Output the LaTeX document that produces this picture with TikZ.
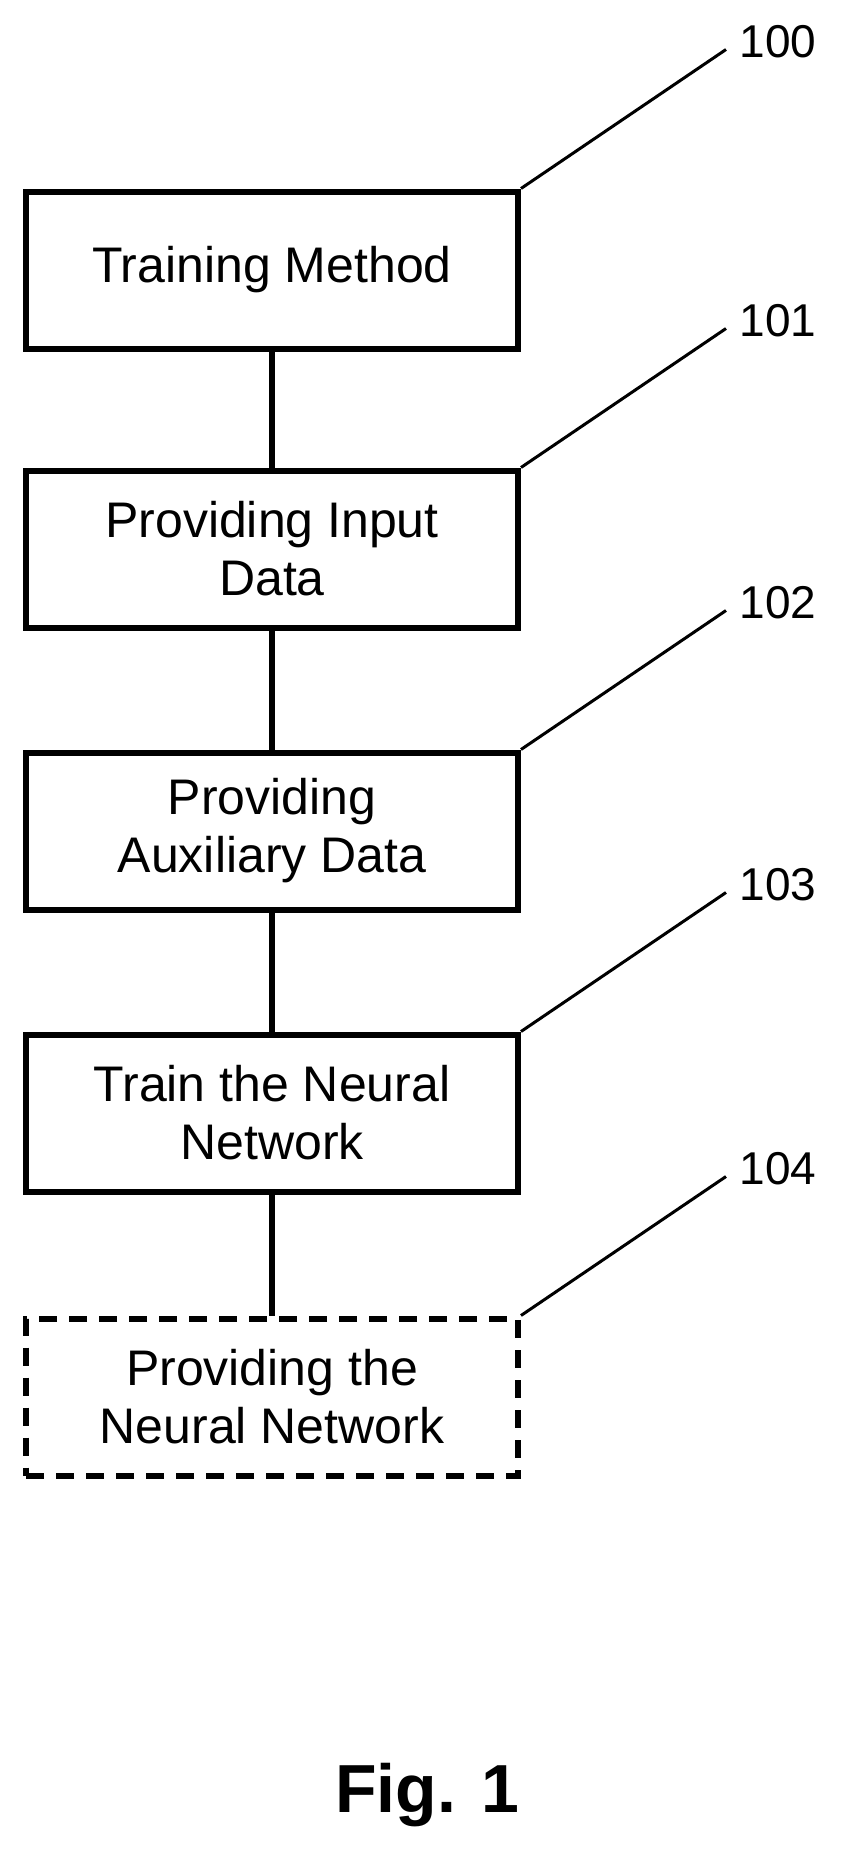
\documentclass[tikz,border=0pt]{standalone}
\usepackage{fontspec}
\setmainfont{Liberation Sans}
\begin{document}
\begin{tikzpicture}[x=1pt,y=-1pt,
  box/.style={draw,line width=6pt,minimum width=492pt,minimum height=157pt,align=center,font=\fontsize{50}{58}\selectfont,inner sep=0pt},
  lead/.style={line width=3pt},
  conn/.style={line width=6pt},
  num/.style={font=\fontsize{46}{54}\selectfont,anchor=west}]
\useasboundingbox (0,0) rectangle (841,1860);
\node[box] (b0) at (272,270) {Training Method};
\node[box] (b1) at (272,549) {Providing Input\\Data};
\node[box] (b2) at (272,831) {Providing\\Auxiliary Data};
\node[box] (b3) at (272,1113) {Train the Neural\\Network};
\node[box,dashed,dash pattern=on 18pt off 12pt] (b4) at (272,1397) {Providing the\\Neural Network};
\draw[conn] (b0) -- (b1);
\draw[conn] (b1) -- (b2);
\draw[conn] (b2) -- (b3);
\draw[conn] (b3) -- (b4);
\foreach \n/\t in {b0/100,b1/101,b2/102,b3/103,b4/104}{
  \coordinate (e\n) at ([shift={(205,-139)}]\n.north east);
  \draw[lead] (\n.north east) -- (e\n);
  \node[num] (l\n) at ([shift={(10,-8)}]e\n) {\t};
}
\node[font=\bfseries\fontsize{68}{80}\selectfont] (fig) at (427,1795) {Fig. 1};
\end{tikzpicture}
\end{document}
